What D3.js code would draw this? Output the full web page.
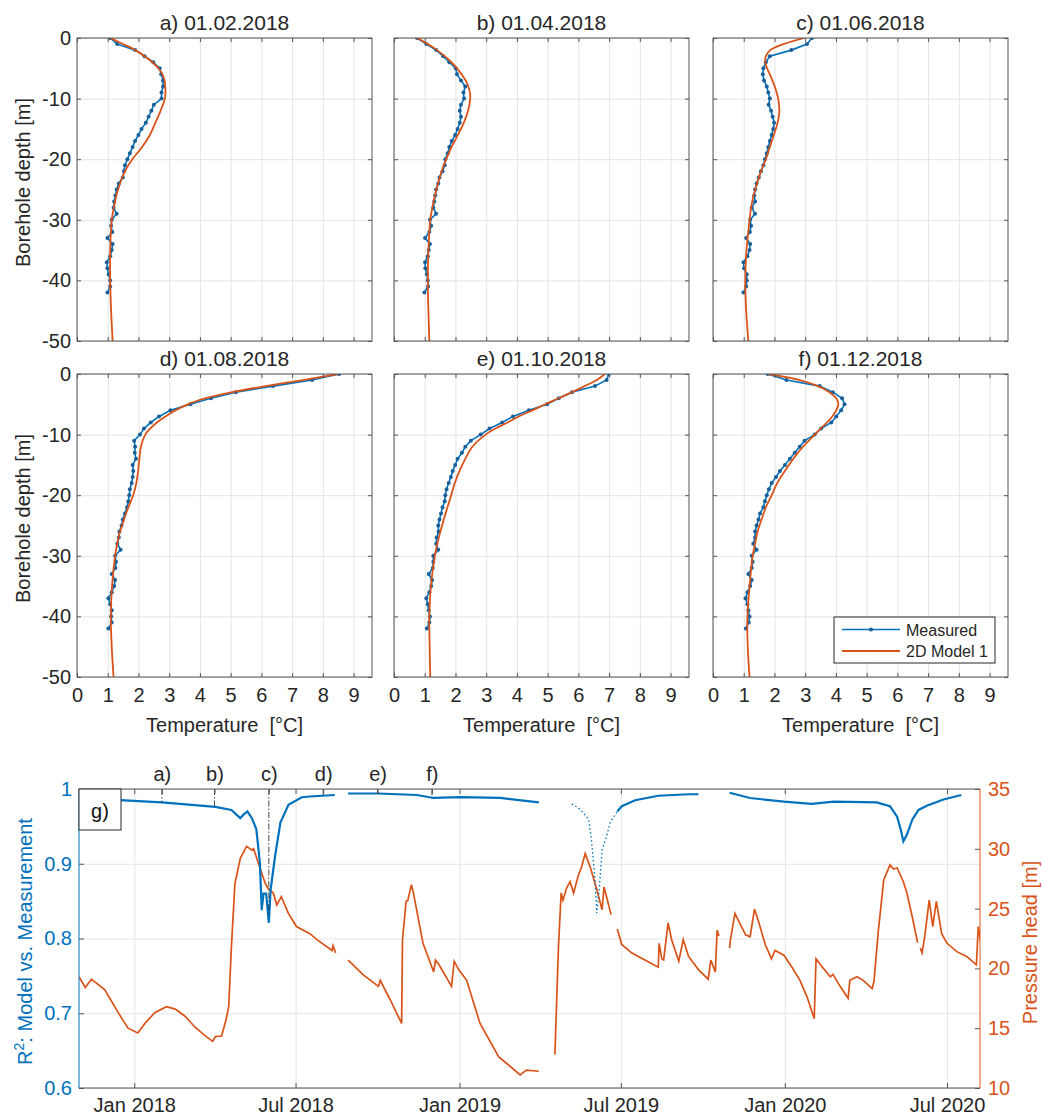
<!DOCTYPE html>
<html>
<head>
<meta charset="utf-8">
<script src="https://cdn.jsdelivr.net/npm/d3@7"></script>
<style>
  body { margin: 0; background: #fff; }
  text { font-family: "Liberation Sans", Arial, sans-serif; fill: #262626; }
  .grid line { stroke: #e4e4e4; stroke-width: 1; }
  .grid path, .ax path { display: none; }
  .ax line { stroke: #555; }
</style>
</head>
<body>
<svg id="chart" width="1042" height="1120"></svg>
<script>
// ---- profile panels a)-f) ----
var panelTitles = ["a) 01.02.2018", "b) 01.04.2018", "c) 01.06.2018",
                   "d) 01.08.2018", "e) 01.10.2018", "f) 01.12.2018"];
var tempTicks = [0, 1, 2, 3, 4, 5, 6, 7, 8, 9];
var depthTicks = [-50, -40, -30, -20, -10, 0];

var measDepth = [0, -1, -2, -3, -4, -5, -6, -7, -8, -9, -10, -11, -12, -13, -14, -15, -16, -17, -18, -19, -20,
                 -21, -22, -23, -24, -25, -26, -27, -28, -29, -30, -31, -32, -33, -34, -35, -36, -37, -38, -39, -40, -41, -42];
var measA = [1.08, 1.31, 1.89, 2.2, 2.48, 2.69, 2.74, 2.8, 2.8, 2.75, 2.75, 2.5, 2.42, 2.33, 2.24, 2.1, 2.0, 1.89, 1.81, 1.72, 1.64,
             1.56, 1.53, 1.49, 1.36, 1.29, 1.25, 1.21, 1.19, 1.29, 1.13, 1.11, 1.15, 0.99, 1.16, 1.13, 1.08, 0.97, 0.99, 1.03, 1.08, 1.08, 0.99];
var measB = [0.75, 1.05, 1.37, 1.6, 1.8, 2.01, 2.05, 2.18, 2.32, 2.26, 2.28, 2.18, 2.14, 2.18, 2.14, 2.07, 1.99, 1.88, 1.8, 1.75, 1.67,
             1.65, 1.58, 1.48, 1.44, 1.37, 1.34, 1.31, 1.28, 1.37, 1.17, 1.21, 1.15, 1.01, 1.17, 1.13, 1.1, 1.01, 1.02, 1.07, 1.1, 1.11, 0.99];
var measC = [3.22, 3.06, 2.55, 1.85, 1.72, 1.64, 1.62, 1.66, 1.75, 1.8, 1.85, 1.81, 1.89, 1.94, 1.99, 1.96, 1.91, 1.85, 1.8, 1.75, 1.69,
             1.64, 1.56, 1.49, 1.42, 1.37, 1.34, 1.37, 1.26, 1.37, 1.21, 1.24, 1.2, 1.08, 1.21, 1.19, 1.12, 0.99, 1.01, 1.1, 1.1, 1.08, 0.99];
var measD = [8.53, 7.65, 6.38, 5.17, 4.36, 3.69, 3.04, 2.67, 2.4, 2.18, 2.05, 1.86, 1.89, 1.88, 1.92, 1.81, 1.83, 1.81, 1.78, 1.72, 1.7,
             1.67, 1.63, 1.56, 1.49, 1.45, 1.38, 1.36, 1.31, 1.42, 1.24, 1.27, 1.25, 1.13, 1.24, 1.21, 1.13, 1.02, 1.08, 1.13, 1.11, 1.13, 1.02];
var measE = [6.99, 6.92, 6.54, 5.79, 5.36, 4.98, 4.39, 3.87, 3.52, 3.11, 2.82, 2.5, 2.32, 2.21, 2.07, 1.99, 1.91, 1.85, 1.78, 1.71, 1.67,
             1.65, 1.58, 1.53, 1.48, 1.44, 1.45, 1.39, 1.37, 1.44, 1.28, 1.28, 1.26, 1.13, 1.24, 1.21, 1.15, 1.05, 1.1, 1.13, 1.17, 1.15, 1.07];
var measF = [1.78, 2.39, 3.47, 3.9, 4.2, 4.28, 4.17, 4.01, 3.85, 3.52, 3.31, 2.98, 2.82, 2.66, 2.5, 2.34, 2.18, 2.05, 1.91, 1.82, 1.75,
             1.69, 1.64, 1.53, 1.48, 1.42, 1.37, 1.37, 1.31, 1.42, 1.26, 1.29, 1.26, 1.15, 1.26, 1.21, 1.12, 1.06, 1.12, 1.15, 1.19, 1.16, 1.07];

var modelDepth = [0, -1, -2, -3, -4, -5, -6, -7, -8, -9, -10, -12, -14, -16, -18, -20, -22, -24, -26, -28, -30, -35, -40, -45, -50];
var modelA = [1.08, 1.5, 1.9, 2.2, 2.45, 2.65, 2.78, 2.85, 2.87, 2.88, 2.86, 2.72, 2.55, 2.37, 2.12, 1.8, 1.56, 1.4, 1.28, 1.2, 1.13, 1.08, 1.08, 1.11, 1.16];
var modelB = [0.75, 1.1, 1.4, 1.65, 1.87, 2.05, 2.2, 2.33, 2.42, 2.47, 2.48, 2.41, 2.27, 2.08, 1.87, 1.7, 1.55, 1.43, 1.33, 1.25, 1.18, 1.12, 1.1, 1.12, 1.15];
var modelC = [2.98, 2.3, 1.86, 1.72, 1.7, 1.76, 1.85, 1.93, 2.01, 2.07, 2.12, 2.16, 2.1, 1.98, 1.85, 1.72, 1.56, 1.43, 1.32, 1.24, 1.19, 1.09, 1.05, 1.08, 1.15];
var modelD = [8.5, 7.35, 6.14, 5.05, 4.2, 3.6, 3.2, 2.88, 2.6, 2.38, 2.22, 2.08, 2.03, 1.99, 1.93, 1.83, 1.67, 1.53, 1.4, 1.31, 1.24, 1.14, 1.1, 1.13, 1.19];
var modelE = [6.86, 6.6, 6.2, 5.79, 5.36, 4.92, 4.5, 4.06, 3.7, 3.3, 2.98, 2.55, 2.32, 2.13, 1.98, 1.86, 1.74, 1.62, 1.51, 1.41, 1.33, 1.2, 1.15, 1.16, 1.18];
var modelF = [1.8, 2.82, 3.42, 3.79, 4.01, 4.08, 4.01, 3.88, 3.71, 3.5, 3.31, 2.93, 2.61, 2.34, 2.09, 1.91, 1.72, 1.58, 1.45, 1.37, 1.29, 1.19, 1.12, 1.13, 1.19];

var measured = [measA, measB, measC, measD, measE, measF];
var modelled = [modelA, modelB, modelC, modelD, modelE, modelF];
var legendLabels = ["Measured", "2D Model 1"];

// ---- time series panel g) ----
var profileDates = ["2018-02-01", "2018-04-01", "2018-06-01", "2018-08-01", "2018-10-01", "2018-12-01"];
var profileLabels = ["a)", "b)", "c)", "d)", "e)", "f)"];
var profileR2 = [0.982, 0.976, 0.83, 0.99, 0.994, 0.988];
var dateTicks = ["2018-01-01", "2018-07-01", "2019-01-01", "2019-07-01", "2020-01-01", "2020-07-01"];
var r2Ticks = [0.6, 0.7, 0.8, 0.9, 1];
var headTicks = [10, 15, 20, 25, 30, 35];

var r2Dates = ["2017-10-31", "2017-12-16", "2018-02-01", "2018-04-02", "2018-04-20", "2018-04-30", "2018-05-03", "2018-05-08",
  "2018-05-13", "2018-05-18", "2018-05-22", "2018-05-24", "2018-05-26", "2018-05-29", "2018-06-01", "2018-06-03", "2018-06-08",
  "2018-06-14", "2018-06-23", "2018-07-08", "2018-07-17", "2018-08-14", "2018-08-20", "2018-08-29", "2018-10-02", "2018-11-14",
  "2018-12-03", "2019-01-02", "2019-02-16", "2019-03-31", "2019-04-15", "2019-06-27", "2019-07-02", "2019-07-17", "2019-08-12",
  "2019-09-15", "2019-09-26", "2019-10-15", "2019-10-31", "2019-11-23", "2019-12-31", "2020-01-31", "2020-02-25", "2020-04-13",
  "2020-04-28", "2020-05-06", "2020-05-10", "2020-05-13", "2020-05-17", "2020-05-23", "2020-05-30", "2020-06-09", "2020-06-27", "2020-07-17"];
var r2Values = [0.986, 0.985, 0.982, 0.976, 0.972, 0.961, 0.965, 0.97,
  0.961, 0.946, 0.901, 0.838, 0.86, 0.86, 0.821, 0.865, 0.91,
  0.955, 0.979, 0.989, 0.99, 0.992, null, 0.994, 0.994, 0.992,
  0.988, 0.989, 0.988, 0.982, null, 0.97, 0.977, 0.985, 0.991,
  0.993, 0.993, null, 0.995, 0.988, 0.983, 0.98, 0.983, 0.982,
  0.977, 0.963, 0.946, 0.93, 0.939, 0.959, 0.972, 0.978, 0.986, 0.992];
// sparse samples during spring 2019
var r2SparseDates = ["2019-05-07", "2019-05-14", "2019-05-20", "2019-05-26", "2019-05-29", "2019-06-02", "2019-06-04",
  "2019-06-07", "2019-06-10", "2019-06-15", "2019-06-19", "2019-06-27"];
var r2SparseValues = [0.98, 0.975, 0.968, 0.959, 0.932, 0.879, 0.834, 0.87, 0.919, 0.937, 0.955, 0.97];

var headDates = ["2017-10-31", "2017-11-07", "2017-11-14", "2017-11-29", "2017-12-14", "2017-12-25", "2018-01-05", "2018-01-13",
  "2018-01-24", "2018-02-06", "2018-02-16", "2018-02-27", "2018-03-10", "2018-03-21", "2018-03-30", "2018-04-02", "2018-04-09",
  "2018-04-14", "2018-04-17", "2018-04-20", "2018-04-24", "2018-04-30", "2018-05-07", "2018-05-13", "2018-05-15", "2018-05-22",
  "2018-05-28", "2018-05-31", "2018-06-06", "2018-06-10", "2018-06-15", "2018-06-23", "2018-07-02", "2018-07-17", "2018-07-25",
  "2018-08-11", "2018-08-12", "2018-08-15", "2018-08-22", "2018-08-29", "2018-09-15", "2018-10-02", "2018-10-04", "2018-10-15",
  "2018-10-28", "2018-10-29", "2018-11-02", "2018-11-04", "2018-11-08", "2018-11-10", "2018-11-21", "2018-12-03", "2018-12-05",
  "2018-12-09", "2018-12-23", "2018-12-26", "2018-12-31", "2019-01-09", "2019-01-24", "2019-02-14", "2019-02-27", "2019-03-10",
  "2019-03-17", "2019-03-31", "2019-04-10", "2019-04-18", "2019-04-22", "2019-04-25", "2019-04-27", "2019-05-01", "2019-05-05",
  "2019-05-09", "2019-05-14", "2019-05-18", "2019-05-22", "2019-05-28", "2019-06-04", "2019-06-10", "2019-06-12", "2019-06-16",
  "2019-06-20", "2019-06-24", "2019-06-27", "2019-07-02", "2019-07-13", "2019-07-28", "2019-08-12", "2019-08-13", "2019-08-16",
  "2019-08-18", "2019-08-23", "2019-08-27", "2019-09-04", "2019-09-09", "2019-09-15", "2019-09-26", "2019-10-07", "2019-10-10",
  "2019-10-15", "2019-10-17", "2019-10-19", "2019-10-25", "2019-10-31", "2019-11-01", "2019-11-06", "2019-11-10", "2019-11-18",
  "2019-11-23", "2019-11-28", "2019-12-02", "2019-12-10", "2019-12-17", "2019-12-21", "2019-12-31", "2020-01-09", "2020-01-18",
  "2020-01-26", "2020-02-03", "2020-02-05", "2020-02-10", "2020-02-21", "2020-02-24", "2020-03-03", "2020-03-12", "2020-03-14",
  "2020-03-22", "2020-03-29", "2020-04-08", "2020-04-10", "2020-04-15", "2020-04-21", "2020-04-28", "2020-05-02", "2020-05-06",
  "2020-05-13", "2020-05-17", "2020-05-23", "2020-05-29", "2020-05-30", "2020-06-01", "2020-06-03", "2020-06-06", "2020-06-11",
  "2020-06-15", "2020-06-19", "2020-06-25", "2020-07-01", "2020-07-12", "2020-07-23", "2020-08-03", "2020-08-05", "2020-08-09"];
var headValues = [19.3, 18.4, 19.1, 18.2, 16.3, 15.0, 14.6, 15.4,
  16.3, 16.8, 16.6, 16.0, 15.1, 14.4, 13.9, 14.3, 14.35,
  15.7, 16.8, 21.8, 27.1, 29.2, 30.2, 29.9, 30.0, 28.4,
  27.1, 26.7, 26.3, 25.3, 26.0, 24.6, 23.5, 22.9, 22.4,
  21.5, 21.9, 21.3, null, 20.7, 19.45, 18.5, 19.0, 17.4,
  15.4, 22.4, 25.6, 25.7, 27.0, 26.4, 22.1, 19.7, 20.7,
  20.3, 18.5, 20.6, 19.9, 19.0, 15.4, 12.6, 11.8, 11.1,
  11.5, 11.4, null, 12.8, 21.8, 26.3, 25.7, 26.7, 27.25,
  26.3, 27.7, 28.5, 29.6, 28.4, 26.6, 24.9, 26.8, 25.7,
  24.5, null, 23.3, 22.0, 21.3, 20.7, 20.1, 22.1, 20.8,
  20.7, 23.8, 22.4, 20.6, 22.4, 21.0, 19.9, 19.1, 20.7,
  19.7, 23.2, 22.7, null, 21.7, 22.4, 24.6, 24.0, 22.8,
  22.65, 24.95, 24.05, 22.0, 20.8, 21.5, 21.1, 20.1, 19.0,
  17.6, 15.8, 20.8, 20.3, 19.3, 19.5, 18.5, 17.5, 19.0,
  19.3, 19.0, 18.3, 18.9, 23.2, 27.4, 28.65, 28.3, 28.4,
  27.25, 26.3, 24.3, 22.15, null, 21.7, 21.3, 22.65, 25.7,
  23.5, 25.6, 22.9, 22.1, 21.4, 21.0, 20.3, 23.5, 21.7];

var blue = "#0072BD", orange = "#D95319";
var svg = d3.select("#chart");
var parseDate = d3.timeParse("%Y-%m-%d");

// layout of the 2x3 grid
var colLeft = [77, 394, 713], rowTop = [38, 374];
var pW = 295, pH = 303;

function profilePanel(i) {
  var col = i % 3, row = Math.floor(i / 3);
  var left = colLeft[col], top = rowTop[row];
  var x = d3.scaleLinear().domain([0, 9.6]).range([left, left + pW]);
  var y = d3.scaleLinear().domain([-50, 0]).range([top + pH, top]);
  var g = svg.append("g");

  g.append("g").attr("class", "grid")
    .attr("transform", "translate(0," + (top + pH) + ")")
    .call(d3.axisBottom(x).tickValues(tempTicks).tickSize(-pH).tickFormat(""));
  g.append("g").attr("class", "grid")
    .attr("transform", "translate(" + left + ",0)")
    .call(d3.axisLeft(y).tickValues(depthTicks).tickSize(-pW).tickFormat(""));

  var clipId = "clip" + i;
  g.append("clipPath").attr("id", clipId).append("rect")
    .attr("x", left).attr("y", top).attr("width", pW).attr("height", pH);

  var meas = measDepth.map(function(d, k) { return [measured[i][k], d]; });
  var mod = modelDepth.map(function(d, k) { return [modelled[i][k], d]; });
  var lineM = d3.line().x(function(d) { return x(d[0]); }).y(function(d) { return y(d[1]); });
  var lineS = d3.line().curve(d3.curveCatmullRom.alpha(0.5))
    .x(function(d) { return x(d[0]); }).y(function(d) { return y(d[1]); });

  var plot = g.append("g").attr("clip-path", "url(#" + clipId + ")");
  plot.append("path").datum(meas).attr("d", lineM)
    .attr("fill", "none").attr("stroke", blue).attr("stroke-width", 1.6);
  plot.selectAll(".pt").data(meas).enter().append("circle")
    .attr("cx", function(d) { return x(d[0]); }).attr("cy", function(d) { return y(d[1]); })
    .attr("r", 2).attr("fill", "#1a5f98");
  plot.append("path").datum(mod).attr("d", lineS)
    .attr("fill", "none").attr("stroke", orange).attr("stroke-width", 1.8);

  // inner ticks on all four sides
  g.append("g").attr("class", "ax").attr("transform", "translate(0," + (top + pH) + ")")
    .call(d3.axisBottom(x).tickValues(tempTicks).tickSizeInner(-4).tickSizeOuter(0).tickPadding(11)
      .tickFormat(row == 1 ? function(d) { return String(d); } : ""))
    .selectAll("text").style("font-size", "20px").attr("fill", "#262626");
  g.append("g").attr("class", "ax").attr("transform", "translate(0," + top + ")")
    .call(d3.axisTop(x).tickValues(tempTicks).tickSizeInner(-4).tickSizeOuter(0).tickFormat(""));
  g.append("g").attr("class", "ax").attr("transform", "translate(" + left + ",0)")
    .call(d3.axisLeft(y).tickValues(depthTicks).tickSizeInner(-4).tickSizeOuter(0).tickPadding(6)
      .tickFormat(col == 0 ? function(d) { return String(d); } : ""))
    .selectAll("text").style("font-size", "20px").attr("fill", "#262626");
  g.append("g").attr("class", "ax").attr("transform", "translate(" + (left + pW) + ",0)")
    .call(d3.axisRight(y).tickValues(depthTicks).tickSizeInner(-4).tickSizeOuter(0).tickFormat(""));

  g.append("rect").attr("x", left).attr("y", top).attr("width", pW).attr("height", pH)
    .attr("fill", "none").attr("stroke", "#555").attr("stroke-width", 1);

  g.append("text").attr("x", left + pW / 2).attr("y", top - 8)
    .attr("text-anchor", "middle").style("font-size", "21px").text(panelTitles[i]);

  if (col == 0) {
    g.append("text")
      .attr("transform", "translate(30," + (top + pH / 2 - 7) + ") rotate(-90)")
      .attr("text-anchor", "middle").style("font-size", "20px").text("Borehole depth [m]");
  }
  if (row == 1) {
    g.append("text").attr("x", left + pW / 2).attr("y", 732)
      .attr("text-anchor", "middle").style("font-size", "20px").attr("xml:space", "preserve")
      .text("Temperature  [\u00B0C]");
  }
  if (i == 5) {
    var lg = g.append("g");
    lg.append("rect").attr("x", 834).attr("y", 617).attr("width", 161).attr("height", 46)
      .attr("fill", "#fff").attr("stroke", "#262626").attr("stroke-width", 1);
    lg.append("line").attr("x1", 842).attr("x2", 900).attr("y1", 629.5).attr("y2", 629.5)
      .attr("stroke", blue).attr("stroke-width", 1.6);
    lg.append("circle").attr("cx", 871).attr("cy", 629.5).attr("r", 2).attr("fill", "#1a5f98");
    lg.append("line").attr("x1", 842).attr("x2", 900).attr("y1", 651).attr("y2", 651)
      .attr("stroke", orange).attr("stroke-width", 1.8);
    lg.selectAll(".lt").data(legendLabels).enter().append("text")
      .attr("x", 906).attr("y", function(d, k) { return 635.5 + k * 21.5; })
      .style("font-size", "16px").text(function(d) { return d; });
  }
}
for (var i = 0; i < 6; i++) profilePanel(i);

// ---- panel g ----
var gl = 79, gr = 980, gt = 789, gb = 1088;
var xT = d3.scaleTime().domain([parseDate("2017-10-31"), parseDate("2020-08-07")]).range([gl, gr]);
var yL = d3.scaleLinear().domain([0.6, 1]).range([gb, gt]);
var yR = d3.scaleLinear().domain([10, 35]).range([gb, gt]);
var tickDates = dateTicks.map(parseDate);
var profDates = profileDates.map(parseDate);

var gg = svg.append("g");
gg.append("g").attr("class", "grid").attr("transform", "translate(0," + gb + ")")
  .call(d3.axisBottom(xT).tickValues(tickDates).tickSize(-(gb - gt)).tickFormat(""));
gg.append("g").attr("class", "grid").attr("transform", "translate(" + gl + ",0)")
  .call(d3.axisLeft(yL).tickValues(r2Ticks).tickSize(-(gr - gl)).tickFormat(""));

gg.append("clipPath").attr("id", "clipG").append("rect")
  .attr("x", gl).attr("y", gt).attr("width", gr - gl).attr("height", gb - gt);
var plotG = gg.append("g").attr("clip-path", "url(#clipG)");

var headData = headDates.map(function(d, k) { return [parseDate(d), headValues[k]]; });
var r2Data = r2Dates.map(function(d, k) { return [parseDate(d), r2Values[k]]; });
var r2Sparse = r2SparseDates.map(function(d, k) { return [parseDate(d), r2SparseValues[k]]; });

plotG.append("path").datum(headData)
  .attr("d", d3.line().defined(function(d) { return d[1] != null; })
    .x(function(d) { return xT(d[0]); }).y(function(d) { return yR(d[1]); }))
  .attr("fill", "none").attr("stroke", orange).attr("stroke-width", 1.7);

var lineR2 = d3.line().defined(function(d) { return d[1] != null; })
  .x(function(d) { return xT(d[0]); }).y(function(d) { return yL(d[1]); });
plotG.append("path").datum(r2Data).attr("d", lineR2)
  .attr("fill", "none").attr("stroke", blue).attr("stroke-width", 2.2);
plotG.append("path").datum(r2Sparse).attr("d", lineR2)
  .attr("fill", "none").attr("stroke", blue).attr("stroke-width", 1.3).attr("stroke-dasharray", "1.5,2.5");

// stems marking the profile dates
plotG.selectAll(".stem").data(profDates).enter().append("line")
  .attr("x1", function(d) { return xT(d); }).attr("x2", function(d) { return xT(d); })
  .attr("y1", gt).attr("y2", function(d, k) { return yL(profileR2[k]); })
  .attr("stroke", "#333").attr("stroke-width", 0.9).attr("stroke-dasharray", "6,2,1.5,2");

// axes
gg.append("g").attr("class", "ax").attr("transform", "translate(0," + gb + ")")
  .call(d3.axisBottom(xT).tickValues(tickDates).tickSizeInner(-5).tickSizeOuter(0).tickPadding(10)
    .tickFormat(d3.timeFormat("%b %Y")))
  .selectAll("text").style("font-size", "20px").attr("fill", "#262626");
gg.append("g").attr("class", "ax").attr("transform", "translate(0," + gt + ")")
  .call(d3.axisTop(xT).tickValues(tickDates).tickSizeInner(-5).tickSizeOuter(0).tickFormat(""));
var topAx = gg.append("g").attr("class", "ax").attr("transform", "translate(0," + gt + ")")
  .call(d3.axisTop(xT).tickValues(profDates).tickSizeInner(-5).tickSizeOuter(0).tickPadding(8)
    .tickFormat(function(d, k) { return profileLabels[k]; }));
topAx.selectAll("text").style("font-size", "20px").attr("fill", "#111");

var leftAx = gg.append("g").attr("class", "ax").attr("transform", "translate(" + gl + ",0)")
  .call(d3.axisLeft(yL).tickValues(r2Ticks).tickSizeInner(-5).tickSizeOuter(0).tickPadding(7)
    .tickFormat(function(d) { return String(d); }));
leftAx.selectAll("line").attr("stroke", blue);
leftAx.selectAll("text").style("font-size", "20px").attr("fill", blue).style("fill", blue);

var rightAx = gg.append("g").attr("class", "ax").attr("transform", "translate(" + gr + ",0)")
  .call(d3.axisRight(yR).tickValues(headTicks).tickSizeInner(-5).tickSizeOuter(0).tickPadding(8)
    .tickFormat(function(d) { return String(d); }));
rightAx.selectAll("line").attr("stroke", orange);
rightAx.selectAll("text").style("font-size", "20px").style("fill", orange);

// frame: grey top/bottom, coloured sides
gg.append("line").attr("x1", gl).attr("x2", gr).attr("y1", gt).attr("y2", gt).attr("stroke", "#555");
gg.append("line").attr("x1", gl).attr("x2", gr).attr("y1", gb).attr("y2", gb).attr("stroke", "#555");
gg.append("line").attr("x1", gl).attr("x2", gl).attr("y1", gt).attr("y2", gb).attr("stroke", blue);
gg.append("line").attr("x1", gr).attr("x2", gr).attr("y1", gt).attr("y2", gb).attr("stroke", orange);

// g) label box
gg.append("rect").attr("x", gl).attr("y", gt).attr("width", 42).attr("height", 41)
  .attr("fill", "#fff").attr("stroke", "#262626").attr("stroke-width", 1);
gg.append("text").attr("x", gl + 21).attr("y", gt + 29).attr("text-anchor", "middle")
  .style("font-size", "20px").style("fill", "#111").text("g)");

// axis labels
var r2Label = gg.append("text")
  .attr("transform", "translate(32," + ((gt + gb) / 2 + 3) + ") rotate(-90)")
  .attr("text-anchor", "middle").style("font-size", "20px").style("fill", blue);
r2Label.append("tspan").text("R");
r2Label.append("tspan").attr("dy", -8).style("font-size", "14px").text("2");
r2Label.append("tspan").attr("dy", 8).text(": Model vs. Measurement");

gg.append("text")
  .attr("transform", "translate(1037," + ((gt + gb) / 2 + 4) + ") rotate(-90)")
  .attr("text-anchor", "middle").style("font-size", "20px").style("fill", orange)
  .text("Pressure head [m]");
</script>
</body>
</html>
